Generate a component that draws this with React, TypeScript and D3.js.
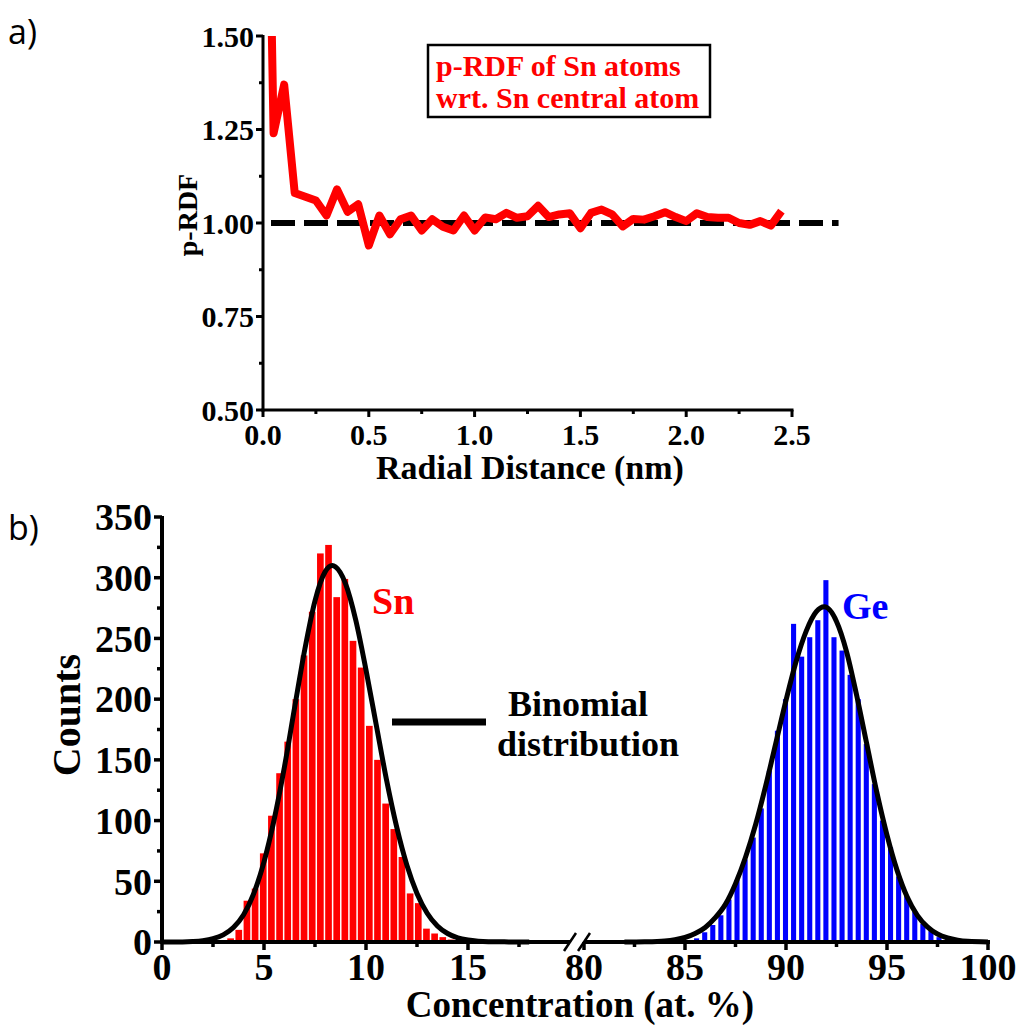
import * as React from "react";
import * as d3 from "d3";

// ---- panel a: p-RDF of Sn atoms ----
const RDF_R = [
  0.0, 0.05, 0.1, 0.15, 0.2, 0.25, 0.3, 0.35, 0.4, 0.45,
  0.5, 0.55, 0.6, 0.65, 0.7, 0.75, 0.8, 0.85, 0.9, 0.95,
  1.0, 1.05, 1.1, 1.15, 1.2, 1.25, 1.3, 1.35, 1.4, 1.45,
  1.5, 1.55, 1.6, 1.65, 1.7, 1.75, 1.8, 1.85, 1.9, 1.95,
  2.0, 2.05, 2.1, 2.15, 2.2, 2.25, 2.3, 2.35, 2.4, 2.45,
];
const RDF_VAL = [
  2.85, 1.24, 1.37, 1.08, 1.07, 1.06, 1.02, 1.09, 1.03, 1.05,
  0.94, 1.02, 0.97, 1.01, 1.02, 0.98, 1.01, 0.99, 0.98, 1.02,
  0.98, 1.015, 1.01, 1.027, 1.014, 1.018, 1.046, 1.016, 1.023, 1.026,
  0.986, 1.027, 1.036, 1.023, 0.991, 1.011, 1.009, 1.018, 1.029, 1.016,
  1.005, 1.026, 1.016, 1.014, 1.014, 1.0, 0.995, 1.005, 0.993, 1.032,
];
const RDF_REF = [0, 2.72]; // dashed reference at p-RDF = 1
const RDF_X_TICKS = [0, 0.5, 1, 1.5, 2, 2.5];
const RDF_Y_TICKS = [0.5, 0.75, 1, 1.25, 1.5];

// ---- panel b: concentration histograms ----
const SN_BINS = [3.4, 3.8, 4.2, 4.6, 5.0, 5.4, 5.8, 6.2, 6.6, 7.0, 7.4, 7.8, 8.2, 8.6, 9.0, 9.4, 9.8, 10.2, 10.6, 11.0, 11.4, 11.8, 12.2, 12.6, 13.0, 13.4, 13.8, 14.2];
const SN_COUNTS = [3, 10, 34, 44, 73, 104, 139, 165, 200, 236, 272, 320, 327, 284, 299, 248, 226, 178, 150, 114, 93, 70, 40, 32, 11, 7, 4, 2];
const GE_BINS = [85.6, 86.0, 86.4, 86.8, 87.2, 87.6, 88.0, 88.4, 88.8, 89.2, 89.6, 90.0, 90.4, 90.8, 91.2, 91.6, 92.0, 92.4, 92.8, 93.2, 93.6, 94.0, 94.4, 94.8, 95.2, 95.6, 96.0, 96.4, 96.8, 97.2, 97.6];
const GE_COUNTS = [3, 8, 14, 22, 35, 51, 68, 86, 110, 141, 174, 200, 262, 235, 251, 265, 298, 251, 240, 220, 200, 163, 130, 100, 78, 54, 38, 25, 15, 9, 4];
const BIN_WIDTH = 0.4;

// binomial fits
const SN_FIT_X = [0, 1, 1.5, 2, 2.5, 3, 3.5, 4, 4.5, 5, 5.5, 6, 6.5, 7, 7.5, 8, 8.35, 8.5, 9, 9.5, 10, 10.5, 11, 11.5, 12, 12.5, 13, 13.5, 14, 14.5, 15, 15.5, 16, 17, 18];
const SN_FIT_Y = [0, 0.1, 0.4, 1.1, 2.7, 5.9, 12, 22.5, 40, 66, 101, 144, 193, 241, 281, 305, 310, 309, 295, 265, 224, 179, 134, 95, 63.5, 40, 23.7, 13.2, 7, 3.4, 1.6, 0.7, 0.3, 0.1, 0];
const GE_FIT_X = [82, 83, 84, 84.5, 85, 85.5, 86, 86.5, 87, 87.5, 88, 88.5, 89, 89.5, 90, 90.5, 91, 91.5, 91.9, 92.5, 93, 93.5, 94, 94.5, 95, 95.5, 96, 96.5, 97, 97.5, 98, 98.5, 99, 100];
const GE_FIT_Y = [0, 0.2, 0.9, 1.9, 3.7, 7, 12, 20, 31, 48, 70, 97, 129, 164, 199, 231, 256, 272, 276, 264, 239, 203, 163, 123, 88, 59, 37, 22, 12.5, 6.6, 3.3, 1.5, 0.6, 0.1];

const CONC_TICKS = [0, 5, 10, 15, 80, 85, 90, 95, 100];
const CONC_MINOR = [2.5, 7.5, 12.5, 17.5, 82.5, 87.5, 92.5, 97.5];
const COUNT_TICKS = [0, 50, 100, 150, 200, 250, 300, 350];

const SERIF = '"Liberation Serif", "Times New Roman", serif';
const SANS = '"Open Sans", "Liberation Sans", sans-serif';

function PanelA() {
  const x = d3.scaleLinear().domain([0, 2.5]).range([263, 792]);
  const y = d3.scaleLinear().domain([0.5, 1.5]).range([410, 36]);
  const line = d3.line<number>().x((d, i) => x(RDF_R[i])).y(d => y(d));
  const minorX = d3.range(0.25, 2.5, 0.5);
  const minorY = d3.range(0.625, 1.5, 0.25);
  return (
    <g>
      <defs>
        <clipPath id="clipA">
          <rect x={x(0)} y={y(1.5)} width={600} height={y(0.5) - y(1.5)} />
        </clipPath>
      </defs>
      <text x={8} y={44} fontFamily={SANS} fontSize={34}>a)</text>
      <line x1={x(RDF_REF[0])} x2={x(RDF_REF[1])} y1={y(1)} y2={y(1)}
        stroke="#000" strokeWidth={6} strokeDasharray="24,9" strokeDashoffset={-8} />
      <path d={line(RDF_VAL) || ""} fill="none" stroke="#ff0000" strokeWidth={8}
        strokeLinejoin="round" clipPath="url(#clipA)" />
      <g stroke="#000" strokeWidth={3}>
        <line x1={x(0)} x2={x(0)} y1={y(1.5) - 1} y2={y(0.5) + 1.5} />
        <line x1={x(0) - 1.5} x2={x(2.5) + 1.5} y1={y(0.5)} y2={y(0.5)} />
        {RDF_Y_TICKS.map(t => <line key={"ya" + t} x1={x(0) - 7} x2={x(0)} y1={y(t)} y2={y(t)} />)}
        {minorY.map(t => <line key={"ym" + t} x1={x(0) - 4} x2={x(0)} y1={y(t)} y2={y(t)} />)}
        {RDF_X_TICKS.map(t => <line key={"xa" + t} x1={x(t)} x2={x(t)} y1={y(0.5)} y2={y(0.5) + 7} />)}
        {minorX.map(t => <line key={"xm" + t} x1={x(t)} x2={x(t)} y1={y(0.5)} y2={y(0.5) + 4} />)}
      </g>
      <g fontFamily={SERIF} fontWeight="bold" fontSize={30}>
        {RDF_Y_TICKS.map(t => (
          <text key={"yl" + t} x={x(0) - 9} y={y(t)} dy="0.35em" textAnchor="end">{t.toFixed(2)}</text>
        ))}
        {RDF_X_TICKS.map(t => (
          <text key={"xl" + t} x={x(t)} y={y(0.5) + 35} textAnchor="middle">{t.toFixed(1)}</text>
        ))}
      </g>
      <text x={530} y={479} fontFamily={SERIF} fontWeight="bold" fontSize={34} textAnchor="middle">
        Radial Distance (nm)
      </text>
      <text transform="translate(197,215) rotate(-90)" fontFamily={SERIF} fontWeight="bold"
        fontSize={28} textAnchor="middle">p-RDF</text>
      <rect x={428} y={45} width={282} height={72} fill="#fff" stroke="#000" strokeWidth={2.5} />
      <g fontFamily={SERIF} fontWeight="bold" fontSize={30} fill="#ff0000">
        <text x={436} y={76}>p-RDF of Sn atoms</text>
        <text x={436} y={108}>wrt. Sn central atom</text>
      </g>
    </g>
  );
}

function PanelB() {
  const xL = d3.scaleLinear().domain([0, 20]).range([162, 570]);
  const xR = d3.scaleLinear().domain([80, 100]).range([584, 988]);
  const x = (v: number) => (v < 50 ? xL(v) : xR(v));
  const y = d3.scaleLinear().domain([0, 350]).range([942, 517]);
  const fit = (xs: number[]) =>
    d3.line<number>().x((d, i) => x(xs[i])).y(d => y(d)).curve(d3.curveMonotoneX);
  const minorY = d3.range(25, 350, 50);
  const y0 = y(0);
  return (
    <g>
      <text x={8} y={540} fontFamily={SANS} fontSize={34}>b)</text>
      <g fill="#ff0000">
        {SN_BINS.map((c, i) => {
          const x0 = x(c - BIN_WIDTH / 2), x1 = x(c + BIN_WIDTH / 2);
          return <rect key={"sn" + c} x={x0} y={y(SN_COUNTS[i])} width={x1 - x0 - 1.5} height={y0 - y(SN_COUNTS[i])} />;
        })}
      </g>
      <g fill="#0000ff">
        {GE_BINS.map((c, i) => {
          const x0 = x(c - BIN_WIDTH / 2), x1 = x(c + BIN_WIDTH / 2);
          return <rect key={"ge" + c} x={x0 + 1} y={y(GE_COUNTS[i])} width={x1 - x0 - 3} height={y0 - y(GE_COUNTS[i])} />;
        })}
      </g>
      <path d={fit(SN_FIT_X)(SN_FIT_Y) || ""} fill="none" stroke="#000" strokeWidth={5} />
      <path d={fit(GE_FIT_X)(GE_FIT_Y) || ""} fill="none" stroke="#000" strokeWidth={5} />
      <g stroke="#000" strokeWidth={4} fill="none">
        <path d={`M${xL(0)},${y(350) - 1}V${y0 + 2}`} />
        <path d={`M${xL(0) - 2},${y0}H${xL(20)}`} />
        <path d={`M${xR(80)},${y0}H${xR(100) + 2}`} />
        <path d={`M${xL(20) - 6},${y0 + 9}L${xL(20) + 6},${y0 - 9}`} strokeWidth={2.5} />
        <path d={`M${xR(80) - 6},${y0 + 9}L${xR(80) + 6},${y0 - 9}`} strokeWidth={2.5} />
      </g>
      <g stroke="#000" strokeWidth={3.5}>
        {COUNT_TICKS.map(t => <line key={"yb" + t} x1={xL(0) - 8} x2={xL(0)} y1={y(t)} y2={y(t)} />)}
        {minorY.map(t => <line key={"ybm" + t} x1={xL(0) - 5} x2={xL(0)} y1={y(t)} y2={y(t)} />)}
        {CONC_TICKS.map(t => <line key={"xb" + t} x1={x(t)} x2={x(t)} y1={y0} y2={y0 + 8} />)}
        {CONC_MINOR.map(t => <line key={"xbm" + t} x1={x(t)} x2={x(t)} y1={y0} y2={y0 + 5} />)}
      </g>
      <g fontFamily={SERIF} fontWeight="bold" fontSize={38}>
        {COUNT_TICKS.map(t => (
          <text key={"ybl" + t} x={xL(0) - 10} y={y(t)} dy="0.35em" textAnchor="end">{t}</text>
        ))}
        {CONC_TICKS.map(t => (
          <text key={"xbl" + t} x={x(t)} y={y0 + 38} textAnchor="middle">{t}</text>
        ))}
      </g>
      <text x={580} y={1017} fontFamily={SERIF} fontWeight="bold" fontSize={37} textAnchor="middle">
        Concentration (at. %)
      </text>
      <text transform="translate(80,715) rotate(-90)" fontFamily={SERIF} fontWeight="bold"
        fontSize={40} textAnchor="middle">Counts</text>
      <text x={372} y={614} fontFamily={SERIF} fontWeight="bold" fontSize={38} fill="#ff0000">Sn</text>
      <text x={842} y={619} fontFamily={SERIF} fontWeight="bold" fontSize={38} fill="#0000ff">Ge</text>
      <line x1={392} x2={486} y1={722} y2={722} stroke="#000" strokeWidth={7} />
      <g fontFamily={SERIF} fontWeight="bold" fontSize={36}>
        <text x={508} y={716}>Binomial</text>
        <text x={497} y={756}>distribution</text>
      </g>
    </g>
  );
}

export default function App() {
  return (
    <svg width={1022} height={1025} viewBox="0 0 1022 1025"
      style={{ position: "absolute", left: 0, top: 0, background: "#fff" }}>
      <rect width={1022} height={1025} fill="#fff" />
      <PanelA />
      <PanelB />
    </svg>
  );
}
